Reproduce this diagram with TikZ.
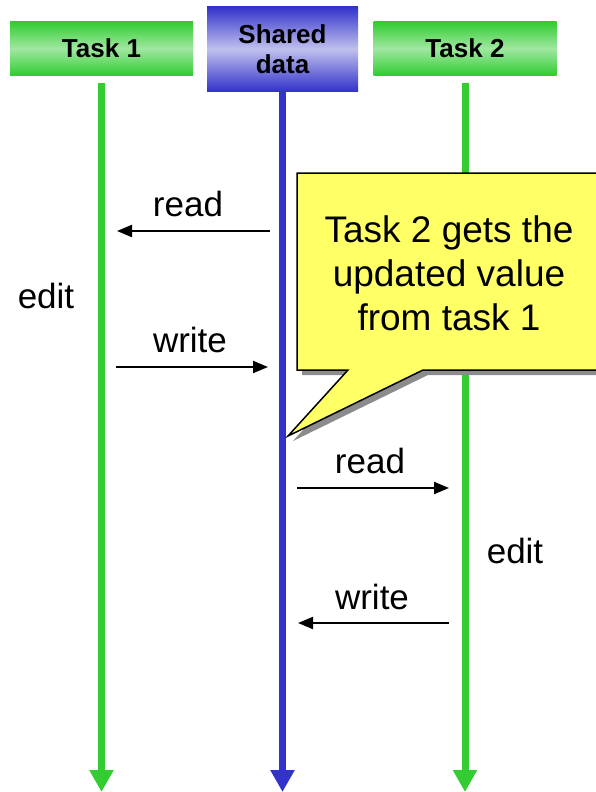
\documentclass[tikz,border=0pt]{standalone}
\usepackage{fontspec}
\setmainfont{Liberation Sans}
\usetikzlibrary{arrows.meta}
\definecolor{grn}{RGB}{51,204,51}
\definecolor{grnl}{RGB}{160,232,160}
\definecolor{blu}{RGB}{51,51,204}
\definecolor{blul}{RGB}{192,192,238}
\definecolor{yel}{RGB}{255,255,102}
\definecolor{shd}{RGB}{140,140,140}
\begin{document}
\begin{tikzpicture}[x=1pt,y=-1pt,
  hdr/.style={inner sep=0pt, font=\fontsize{26}{30}\selectfont\bfseries, align=center},
  greenhdr/.style={hdr, minimum width=183pt, minimum height=53pt, top color=grn, bottom color=grn, middle color=grnl},
  bluehdr/.style={hdr, minimum width=151pt, minimum height=84pt, top color=blu, bottom color=blu, middle color=blul},
  lane/.style={line width=7pt, -{Triangle[width=23pt,length=22pt]}},
  msg/.style={line width=2pt, -{Triangle[width=12pt,length=15pt]}},
  lbl/.style={inner sep=0pt, font=\fontsize{35}{42}\selectfont},
  callout/.style={fill=yel, draw=black, line width=1.5pt, line join=miter}
]
\clip (0,0) rectangle (596,792);
% headers
\node[greenhdr] (t1) at (101.5,48.5) {Task 1};
\node[bluehdr] (sd) at (282.5,49) {Shared\\data};
\node[greenhdr] (t2) at (465,48.5) {Task 2};
% lane ends
\coordinate (e1) at (101.5,792);
\coordinate (e2) at (282.5,792);
\coordinate (e3) at (465,792);
\draw[lane, grn] ([yshift=-8pt]t1.south) -- (e1);
\draw[lane, blu] (sd.south) -- (e2);
\draw[lane, grn] ([yshift=-8pt]t2.south) -- (e3);
% message endpoints
\coordinate (r1a) at (270,231); \coordinate (r1b) at (117,231);
\coordinate (w1a) at (116,367); \coordinate (w1b) at (268,367);
\coordinate (r2a) at (297,488); \coordinate (r2b) at (449,488);
\coordinate (w2a) at (449,623); \coordinate (w2b) at (298,623);
\draw[msg] (r1a) -- (r1b);
\draw[msg] (w1a) -- (w1b);
\draw[msg] (r2a) -- (r2b);
\draw[msg] (w2a) -- (w2b);
% labels
\node[lbl] (lr1) at (188,204) {read};
\node[lbl] (lw1) at (190,340) {write};
\node[lbl] (lr2) at (370,461) {read};
\node[lbl] (lw2) at (372,597) {write};
\node[lbl] (le1) at (46,296) {edit};
\node[lbl] (le2) at (515,551) {edit};
% callout
\fill[shd, shift={(5,5)}] (297,173) -- (610,173) -- (610,370) -- (423,370) -- (288,436) -- (348,370) -- (297,370) -- cycle;
\path[callout] (297,173) -- (610,173) -- (610,370) -- (423,370) -- (288,436) -- (348,370) -- (297,370) -- cycle;
\node[lbl, align=center, font=\fontsize{37}{44}\selectfont] (ct) at (449,273) {Task 2 gets the\\updated value\\from task 1};
\end{tikzpicture}
\end{document}
